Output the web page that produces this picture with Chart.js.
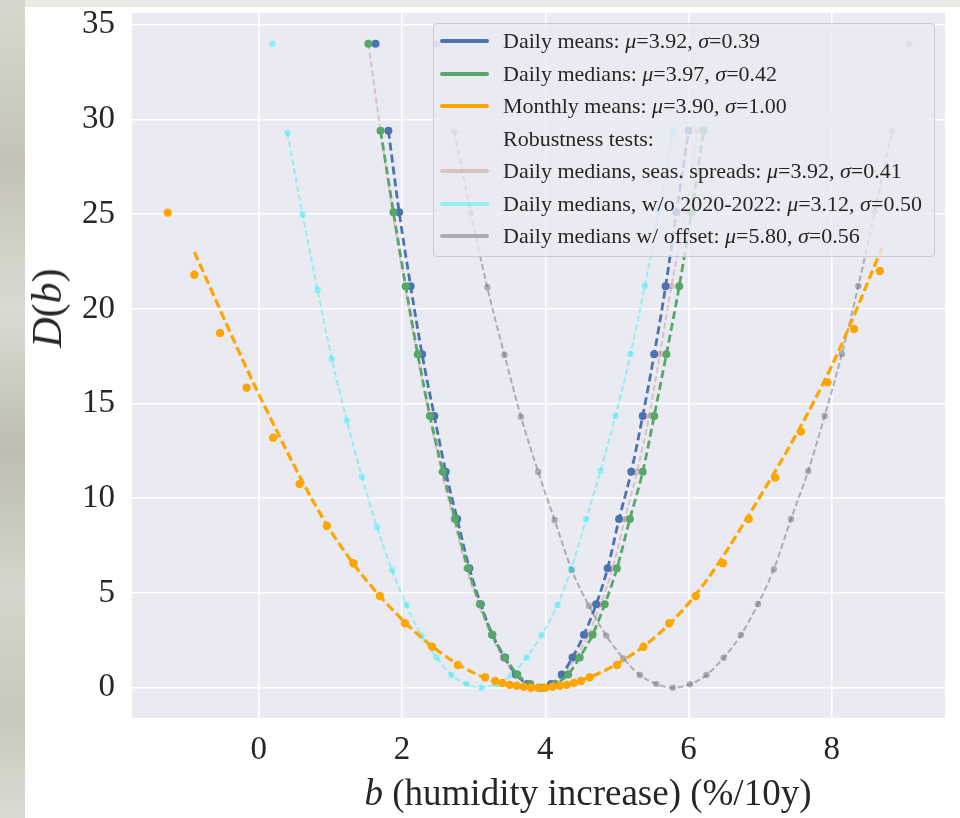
<!DOCTYPE html>
<html>
<head>
<meta charset="utf-8">
<script src="https://cdn.jsdelivr.net/npm/chart.js@4.4.1/dist/chart.umd.min.js"></script>
<style>
  body { margin: 0; width: 960px; height: 818px; overflow: hidden; position: relative;
         background: #ebeae4; font-family: "Liberation Serif", "Times New Roman", serif; color: #262626; }
  #strip { position: absolute; left: 0; top: 0; width: 25px; height: 818px;
           background: linear-gradient(180deg, #d9d8ce 0%, #c4c3b6 20%, #dcdbd2 38%, #bebdb0 55%, #d6d5cb 72%, #c9c8bc 88%, #dddcd3 100%); }
  #panel { position: absolute; left: 25px; top: 7px; width: 935px; height: 811px; background: #fff; }
  #chart { position: absolute; left: 0; top: 0; }
  #legend { position: absolute; left: 408px; top: 16px; width: 502px; height: 234px; box-sizing: border-box;
            background: rgba(234, 234, 242, 0.8); border: 1px solid rgba(200, 200, 206, 0.9); border-radius: 4px;
            padding-top: 1px; font-size: 22px; }
  .row { height: 32.5px; display: flex; align-items: center; white-space: nowrap; }
  .handle { width: 49px; height: 4px; margin-left: 6px; margin-right: 14px; border-radius: 2px; }
  .ytitle { position: absolute; left: 47px; top: 308px; transform: translate(-50%, -50%) rotate(-90deg);
            font-size: 42px; white-space: nowrap; }
  .xtitle { position: absolute; left: 588px; top: 792px; transform: translate(-50%, -50%);
            font-size: 37px; white-space: nowrap; }
  i { font-style: italic; }
</style>
</head>
<body>
<div id="strip"></div>
<div id="panel">
  <canvas id="chart" width="935" height="811"></canvas>
  <div id="legend"></div>
</div>
<div class="ytitle"><i>D</i>(<i>b</i>)</div>
<div class="xtitle"><i>b</i> (humidity increase) (%/10y)</div>
<script>
// tick values
const xTicks = [0, 2, 4, 6, 8];
const yTicks = [0, 5, 10, 15, 20, 25, 30, 35];

// Daily means (points)
const meansB = [1.63, 1.81, 1.96, 2.12, 2.28, 2.45, 2.61, 2.77, 2.94, 3.10, 3.26, 3.43, 3.59, 3.75, 3.92,
                4.08, 4.23, 4.38, 4.54, 4.71, 4.87, 5.03, 5.20, 5.36, 5.52, 5.68, 5.83, 6.00];
const meansD = [34.0, 29.4, 25.1, 21.2, 17.6, 14.35, 11.4, 8.9, 6.3, 4.4, 2.8, 1.6, 0.7, 0.2, 0,
                0.2, 0.7, 1.6, 2.8, 4.4, 6.3, 8.9, 11.4, 14.35, 17.6, 21.2, 25.1, 29.4];

// Daily medians
const mediansB = [1.53, 1.70, 1.88, 2.05, 2.22, 2.39, 2.57, 2.74, 2.92, 3.09, 3.26, 3.44, 3.61, 3.79, 3.97,
                  4.14, 4.32, 4.48, 4.66, 4.83, 5.00, 5.18, 5.36, 5.52, 5.69, 5.87, 6.04, 6.21];
const mediansD = [34.0, 29.4, 25.1, 21.2, 17.6, 14.35, 11.4, 8.9, 6.3, 4.4, 2.8, 1.6, 0.7, 0.2, 0,
                  0.2, 0.7, 1.6, 2.8, 4.4, 6.3, 8.9, 11.4, 14.35, 17.6, 21.2, 25.1, 29.4];

// Monthly means (points and fitted dashed curve)
const monthlyB = [-1.27, -0.90, -0.54, -0.17, 0.20, 0.57, 0.95, 1.32, 1.69, 2.04, 2.42, 2.78, 3.16,
                  3.3, 3.4, 3.5, 3.6, 3.7, 3.8, 3.9, 4.0, 4.1, 4.2, 4.3, 4.4, 4.5,
                  4.62, 5.00, 5.37, 5.73, 6.10, 6.48, 6.84, 7.21, 7.57, 7.94, 8.31, 8.67];
const monthlyD = [25.08, 21.8, 18.73, 15.84, 13.2, 10.75, 8.54, 6.57, 4.84, 3.40, 2.16, 1.20, 0.55,
                  0.35, 0.25, 0.15, 0.1, 0.05, 0, 0, 0, 0.05, 0.1, 0.15, 0.25, 0.35,
                  0.55, 1.2, 2.16, 3.4, 4.84, 6.57, 8.91, 11.09, 13.52, 16.12, 18.94, 22.0];
const monthlyFitB = [-0.9, 0, 1, 2, 3, 3.9, 5, 6, 7, 8, 8.7];
const monthlyFitD = [23.0, 15.5, 8.3, 3.6, 0.78, 0, 1.25, 4.45, 10.1, 17.0, 23.2];

// Robustness: daily medians, seasonal spreads
const seasB = [1.53, 1.70, 1.87, 2.04, 2.21, 2.38, 2.55, 2.72, 2.90, 3.07, 3.24, 3.41, 3.58, 3.75, 3.92,
               4.09, 4.26, 4.43, 4.60, 4.77, 4.94, 5.11, 5.28, 5.45, 5.60, 5.76, 5.96, 6.12];
const seasD = [34.0, 29.4, 25.1, 21.2, 17.6, 14.35, 11.4, 8.9, 6.3, 4.4, 2.8, 1.6, 0.7, 0.2, 0,
               0.2, 0.7, 1.6, 2.8, 4.4, 6.3, 8.9, 11.4, 14.35, 17.6, 21.2, 25.1, 29.4];

// Robustness: daily medians without 2020-2022
const wo2020B = [0.19, 0.40, 0.61, 0.82, 1.02, 1.23, 1.44, 1.65, 1.86, 2.06, 2.27, 2.48, 2.69, 2.90, 3.11,
                 3.32, 3.53, 3.74, 3.95, 4.17, 4.36, 4.57, 4.77, 4.98, 5.19, 5.39, 5.58, 5.79];
const wo2020D = [34.0, 29.3, 25.0, 21.0, 17.35, 14.1, 11.14, 8.5, 6.2, 4.37, 2.75, 1.6, 0.67, 0.2, 0,
                 0.2, 0.67, 1.6, 2.78, 4.37, 6.25, 8.89, 11.46, 14.35, 17.62, 21.21, 25.1, 29.4];

// Robustness: daily medians with offset
const offsetB = [2.48, 2.73, 2.96, 3.19, 3.43, 3.66, 3.90, 4.13, 4.37, 4.61, 4.85, 5.09, 5.32, 5.55, 5.78,
                 6.02, 6.25, 6.49, 6.73, 6.97, 7.19, 7.43, 7.67, 7.90, 8.14, 8.37, 8.60, 8.84, 9.08];
const offsetD = [34.0, 29.35, 25.08, 21.14, 17.57, 14.31, 11.40, 8.85, 6.21, 4.32, 2.75, 1.55, 0.67, 0.2, 0,
                 0.18, 0.67, 1.58, 2.78, 4.42, 6.25, 8.91, 11.44, 14.35, 17.62, 21.21, 25.13, 29.39, 33.99];

const pinkC = 'rgba(165,42,42,0.22)';
const cyanC = 'rgba(0,240,245,0.36)';
const grayC = 'rgba(110,110,120,0.5)';

const legendItems = [
  { color: '#4c72b0', html: 'Daily means: <i>μ</i>=3.92, <i>σ</i>=0.39' },
  { color: '#55a868', html: 'Daily medians: <i>μ</i>=3.97, <i>σ</i>=0.42' },
  { color: '#ffa500', html: 'Monthly means: <i>μ</i>=3.90, <i>σ</i>=1.00' },
  { color: 'transparent', html: 'Robustness tests:' },
  { color: pinkC, html: 'Daily medians, seas. spreads: <i>μ</i>=3.92, <i>σ</i>=0.41' },
  { color: cyanC, html: 'Daily medians, w/o 2020-2022: <i>μ</i>=3.12, <i>σ</i>=0.50' },
  { color: grayC, html: 'Daily medians w/ offset: <i>μ</i>=5.80, <i>σ</i>=0.56' }
];

function pts(bs, ds) {
  return bs.map((b, i) => ({ x: b, y: ds[i] }));
}

function dots(bs, ds, color, r, order) {
  return { data: pts(bs, ds), showLine: false, pointRadius: r, pointBackgroundColor: color,
           pointBorderWidth: 0, order: order };
}

function curve(bs, ds, color, w, dash, order) {
  return { data: pts(bs, ds), showLine: true, pointRadius: 0, borderColor: color, borderWidth: w,
           borderDash: dash, cubicInterpolationMode: 'monotone', fill: false, order: order };
}

const legendBox = document.getElementById('legend');
legendItems.forEach((item) => {
  const row = document.createElement('div');
  row.className = 'row';
  const h = document.createElement('span');
  h.className = 'handle';
  h.style.background = item.color;
  row.appendChild(h);
  const t = document.createElement('span');
  t.innerHTML = item.html;
  row.appendChild(t);
  legendBox.appendChild(row);
});

const areaBg = {
  id: 'areaBg',
  beforeDraw(chart) {
    const a = chart.chartArea;
    const ctx = chart.ctx;
    ctx.save();
    ctx.fillStyle = '#eaeaf2';
    ctx.fillRect(a.left, a.top, a.right - a.left, a.bottom - a.top);
    ctx.restore();
  }
};

const ctx = document.getElementById('chart').getContext('2d');
new Chart(ctx, {
  type: 'scatter',
  data: {
    datasets: [
      curve(monthlyFitB, monthlyFitD, '#ffa500', 3.2, [9, 4], 1),
      dots(monthlyB, monthlyD, '#ffa500', 4.2, 2),
      curve(mediansB.slice(1), mediansD.slice(1), '#55a868', 2.8, [8, 4], 3),
      dots(mediansB, mediansD, '#55a868', 4, 4),
      curve(meansB.slice(1), meansD.slice(1), '#4c72b0', 2.8, [8, 4], 5),
      dots(meansB, meansD, '#4c72b0', 4, 6),
      curve(seasB, seasD, pinkC, 2, [6, 3], 7),
      dots(seasB, seasD, pinkC, 3.2, 8),
      curve(wo2020B.slice(1), wo2020D.slice(1), cyanC, 2, [6, 3], 9),
      dots(wo2020B, wo2020D, cyanC, 3.2, 10),
      curve(offsetB.slice(1, -1), offsetD.slice(1, -1), grayC, 2, [6, 3], 11),
      dots(offsetB, offsetD, grayC, 3.2, 12)
    ]
  },
  options: {
    responsive: false,
    animation: false,
    events: [],
    layout: { padding: { left: 0, top: 6, right: 15, bottom: 0 } },
    plugins: { legend: { display: false }, tooltip: { enabled: false } },
    scales: {
      x: {
        type: 'linear',
        min: -1.77,
        max: 9.58,
        afterBuildTicks: (axis) => { axis.ticks = xTicks.map((v) => ({ value: v })); },
        afterFit: (axis) => { axis.height = 100; axis.paddingLeft = 0; axis.paddingRight = 0; },
        grid: { color: '#ffffff', lineWidth: 1.6, drawTicks: false },
        border: { display: false },
        ticks: { padding: 13, color: '#262626', maxRotation: 0,
                 font: { family: '"Liberation Serif", serif', size: 33 } }
      },
      y: {
        type: 'linear',
        min: -1.6,
        max: 35.62,
        afterBuildTicks: (axis) => { axis.ticks = yTicks.map((v) => ({ value: v })); },
        afterFit: (axis) => { axis.width = 107; axis.paddingTop = 0; axis.paddingBottom = 0; },
        grid: { color: '#ffffff', lineWidth: 1.6, drawTicks: false },
        border: { display: false },
        ticks: { padding: 17, color: '#262626',
                 font: { family: '"Liberation Serif", serif', size: 33 } }
      }
    }
  },
  plugins: [areaBg]
});
</script>
</body>
</html>
